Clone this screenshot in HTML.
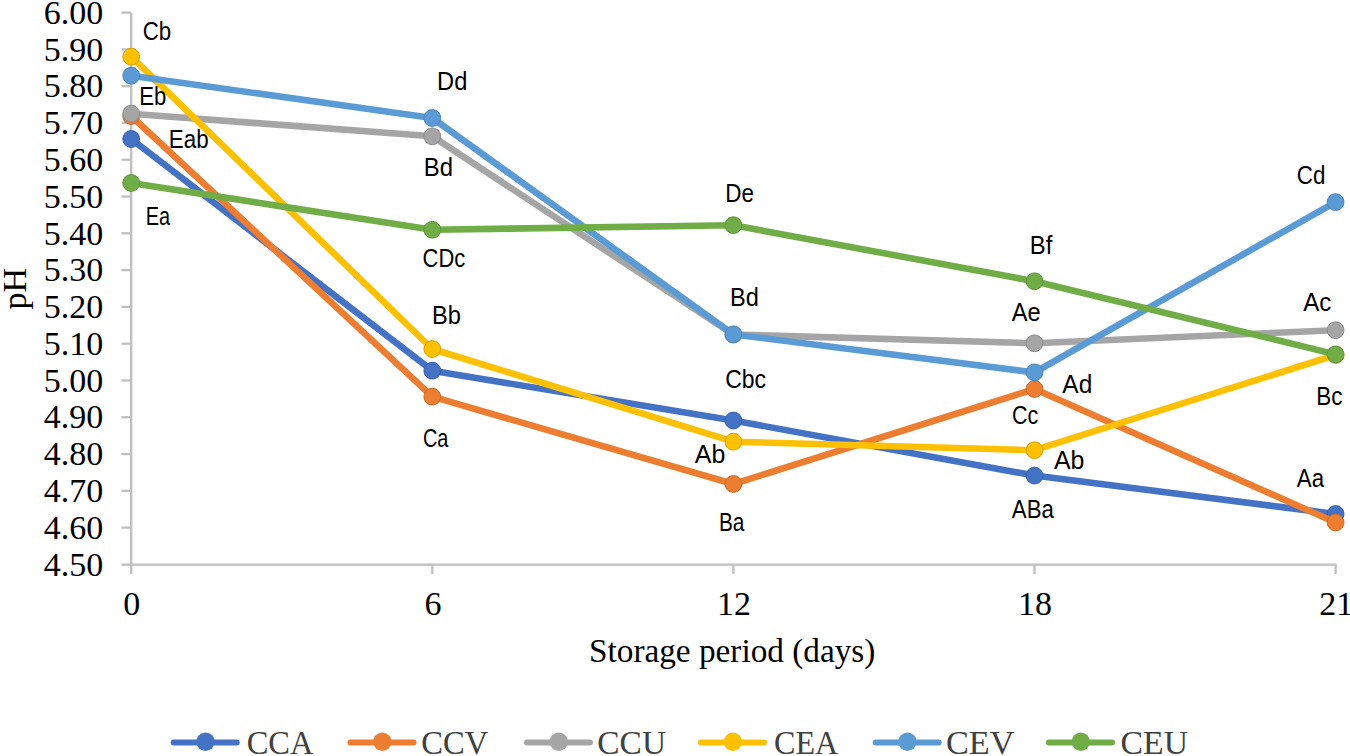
<!DOCTYPE html><html><head><meta charset="utf-8"><style>html,body{margin:0;padding:0;background:#fff;overflow:hidden}svg{display:block}.se{font-family:"Liberation Serif",serif}.sa{font-family:"Liberation Sans",sans-serif}</style></head><body>
<svg width="1350" height="756" viewBox="0 0 1350 756">
<rect width="1350" height="756" fill="#fff"/>
<g stroke="#BFBFBF" stroke-width="2.3" fill="none" shape-rendering="auto">
<line x1="131.2" y1="12.6" x2="131.2" y2="573.9"/>
<line x1="121.5" y1="564.7" x2="1336.7" y2="564.7"/>
<line x1="121.5" y1="12.60" x2="131.2" y2="12.60"/>
<line x1="121.5" y1="49.39" x2="131.2" y2="49.39"/>
<line x1="121.5" y1="86.17" x2="131.2" y2="86.17"/>
<line x1="121.5" y1="122.96" x2="131.2" y2="122.96"/>
<line x1="121.5" y1="159.75" x2="131.2" y2="159.75"/>
<line x1="121.5" y1="196.53" x2="131.2" y2="196.53"/>
<line x1="121.5" y1="233.32" x2="131.2" y2="233.32"/>
<line x1="121.5" y1="270.11" x2="131.2" y2="270.11"/>
<line x1="121.5" y1="306.89" x2="131.2" y2="306.89"/>
<line x1="121.5" y1="343.68" x2="131.2" y2="343.68"/>
<line x1="121.5" y1="380.47" x2="131.2" y2="380.47"/>
<line x1="121.5" y1="417.25" x2="131.2" y2="417.25"/>
<line x1="121.5" y1="454.04" x2="131.2" y2="454.04"/>
<line x1="121.5" y1="490.83" x2="131.2" y2="490.83"/>
<line x1="121.5" y1="527.61" x2="131.2" y2="527.61"/>
<line x1="432.3" y1="564.7" x2="432.3" y2="573.9"/>
<line x1="733.4" y1="564.7" x2="733.4" y2="573.9"/>
<line x1="1034.5" y1="564.7" x2="1034.5" y2="573.9"/>
<line x1="1335.6" y1="564.7" x2="1335.6" y2="573.9"/>
</g>
<g class="se" font-size="34" fill="#000" text-anchor="end">
<text x="103.3" y="23.80">6.00</text>
<text x="103.3" y="60.59">5.90</text>
<text x="103.3" y="97.37">5.80</text>
<text x="103.3" y="134.16">5.70</text>
<text x="103.3" y="170.95">5.60</text>
<text x="103.3" y="207.73">5.50</text>
<text x="103.3" y="244.52">5.40</text>
<text x="103.3" y="281.31">5.30</text>
<text x="103.3" y="318.09">5.20</text>
<text x="103.3" y="354.88">5.10</text>
<text x="103.3" y="391.67">5.00</text>
<text x="103.3" y="428.45">4.90</text>
<text x="103.3" y="465.24">4.80</text>
<text x="103.3" y="502.03">4.70</text>
<text x="103.3" y="538.81">4.60</text>
<text x="103.3" y="575.60">4.50</text>
</g>
<g class="se" font-size="34" fill="#000" text-anchor="middle">
<text x="131.8" y="615.1">0</text>
<text x="432.9" y="615.1">6</text>
<text x="734" y="615.1">12</text>
<text x="1035.1" y="615.1">18</text>
<text x="1336.2" y="615.1">21</text>
</g>
<text x="732.2" y="661.9" class="se" font-size="34" text-anchor="middle" textLength="286.4" lengthAdjust="spacingAndGlyphs">Storage period (days)</text>
<text transform="translate(26,288.6) rotate(-90)" class="se" font-size="34" text-anchor="middle">pH</text>
<polyline points="131.2,139 432.3,370.7 733.4,420.5 1034.5,475.6 1335.6,514" fill="none" stroke="#4472C4" stroke-width="6.6" stroke-linejoin="round" stroke-linecap="round"/>
<circle cx="131.2" cy="139" r="8.4" fill="#4472C4" stroke="#3960a6" stroke-width="1"/>
<circle cx="432.3" cy="370.7" r="8.4" fill="#4472C4" stroke="#3960a6" stroke-width="1"/>
<circle cx="733.4" cy="420.5" r="8.4" fill="#4472C4" stroke="#3960a6" stroke-width="1"/>
<circle cx="1034.5" cy="475.6" r="8.4" fill="#4472C4" stroke="#3960a6" stroke-width="1"/>
<circle cx="1335.6" cy="514" r="8.4" fill="#4472C4" stroke="#3960a6" stroke-width="1"/>
<polyline points="131.2,116 432.3,396.7 733.4,484 1034.5,389.0 1335.6,522.5" fill="none" stroke="#ED7D31" stroke-width="6.6" stroke-linejoin="round" stroke-linecap="round"/>
<circle cx="131.2" cy="116" r="8.4" fill="#ED7D31" stroke="#c96a29" stroke-width="1"/>
<circle cx="432.3" cy="396.7" r="8.4" fill="#ED7D31" stroke="#c96a29" stroke-width="1"/>
<circle cx="733.4" cy="484" r="8.4" fill="#ED7D31" stroke="#c96a29" stroke-width="1"/>
<circle cx="1034.5" cy="389.0" r="8.4" fill="#ED7D31" stroke="#c96a29" stroke-width="1"/>
<circle cx="1335.6" cy="522.5" r="8.4" fill="#ED7D31" stroke="#c96a29" stroke-width="1"/>
<polyline points="131.2,113.7 432.3,136.3 733.4,334.5 1034.5,343.3 1335.6,330.2" fill="none" stroke="#A5A5A5" stroke-width="6.6" stroke-linejoin="round" stroke-linecap="round"/>
<circle cx="131.2" cy="113.7" r="8.4" fill="#A5A5A5" stroke="#8c8c8c" stroke-width="1"/>
<circle cx="432.3" cy="136.3" r="8.4" fill="#A5A5A5" stroke="#8c8c8c" stroke-width="1"/>
<circle cx="733.4" cy="334.5" r="8.4" fill="#A5A5A5" stroke="#8c8c8c" stroke-width="1"/>
<circle cx="1034.5" cy="343.3" r="8.4" fill="#A5A5A5" stroke="#8c8c8c" stroke-width="1"/>
<circle cx="1335.6" cy="330.2" r="8.4" fill="#A5A5A5" stroke="#8c8c8c" stroke-width="1"/>
<polyline points="131.2,56.7 432.3,349 733.4,441.7 1034.5,450.2 1335.6,355" fill="none" stroke="#FFC000" stroke-width="6.6" stroke-linejoin="round" stroke-linecap="round"/>
<circle cx="131.2" cy="56.7" r="8.4" fill="#FFC000" stroke="#d8a300" stroke-width="1"/>
<circle cx="432.3" cy="349" r="8.4" fill="#FFC000" stroke="#d8a300" stroke-width="1"/>
<circle cx="733.4" cy="441.7" r="8.4" fill="#FFC000" stroke="#d8a300" stroke-width="1"/>
<circle cx="1034.5" cy="450.2" r="8.4" fill="#FFC000" stroke="#d8a300" stroke-width="1"/>
<circle cx="1335.6" cy="355" r="8.4" fill="#FFC000" stroke="#d8a300" stroke-width="1"/>
<polyline points="131.2,75.7 432.3,118 733.4,334.4 1034.5,372.4 1335.6,202.1" fill="none" stroke="#5B9BD5" stroke-width="6.6" stroke-linejoin="round" stroke-linecap="round"/>
<circle cx="131.2" cy="75.7" r="8.4" fill="#5B9BD5" stroke="#4d83b5" stroke-width="1"/>
<circle cx="432.3" cy="118" r="8.4" fill="#5B9BD5" stroke="#4d83b5" stroke-width="1"/>
<circle cx="733.4" cy="334.4" r="8.4" fill="#5B9BD5" stroke="#4d83b5" stroke-width="1"/>
<circle cx="1034.5" cy="372.4" r="8.4" fill="#5B9BD5" stroke="#4d83b5" stroke-width="1"/>
<circle cx="1335.6" cy="202.1" r="8.4" fill="#5B9BD5" stroke="#4d83b5" stroke-width="1"/>
<polyline points="131.2,183 432.3,229.8 733.4,225.2 1034.5,281.3 1335.6,354.4" fill="none" stroke="#70AD47" stroke-width="6.6" stroke-linejoin="round" stroke-linecap="round"/>
<circle cx="131.2" cy="183" r="8.4" fill="#70AD47" stroke="#5f933c" stroke-width="1"/>
<circle cx="432.3" cy="229.8" r="8.4" fill="#70AD47" stroke="#5f933c" stroke-width="1"/>
<circle cx="733.4" cy="225.2" r="8.4" fill="#70AD47" stroke="#5f933c" stroke-width="1"/>
<circle cx="1034.5" cy="281.3" r="8.4" fill="#70AD47" stroke="#5f933c" stroke-width="1"/>
<circle cx="1335.6" cy="354.4" r="8.4" fill="#70AD47" stroke="#5f933c" stroke-width="1"/>
<g class="sa" font-size="25.5" fill="#000">
<text x="142.66" y="39.90" textLength="28.48" lengthAdjust="spacingAndGlyphs">Cb</text>
<text x="139.29" y="105.00" textLength="27.05" lengthAdjust="spacingAndGlyphs">Eb</text>
<text x="168.87" y="148.40" textLength="39.78" lengthAdjust="spacingAndGlyphs">Eab</text>
<text x="145.76" y="225.00" textLength="24.44" lengthAdjust="spacingAndGlyphs">Ea</text>
<text x="437.06" y="90.30" textLength="30.26" lengthAdjust="spacingAndGlyphs">Dd</text>
<text x="423.84" y="176.10" textLength="29.19" lengthAdjust="spacingAndGlyphs">Bd</text>
<text x="422.58" y="267.10" textLength="42.70" lengthAdjust="spacingAndGlyphs">CDc</text>
<text x="432.06" y="323.70" textLength="28.94" lengthAdjust="spacingAndGlyphs">Bb</text>
<text x="422.99" y="446.60" textLength="25.42" lengthAdjust="spacingAndGlyphs">Ca</text>
<text x="725.36" y="202.30" textLength="28.74" lengthAdjust="spacingAndGlyphs">De</text>
<text x="729.97" y="305.80" textLength="28.85" lengthAdjust="spacingAndGlyphs">Bd</text>
<text x="725.23" y="388.40" textLength="40.88" lengthAdjust="spacingAndGlyphs">Cbc</text>
<text x="694.75" y="462.60" textLength="30.50" lengthAdjust="spacingAndGlyphs">Ab</text>
<text x="718.89" y="530.50" textLength="25.51" lengthAdjust="spacingAndGlyphs">Ba</text>
<text x="1029.74" y="253.90" textLength="22.53" lengthAdjust="spacingAndGlyphs">Bf</text>
<text x="1011.85" y="320.50" textLength="28.89" lengthAdjust="spacingAndGlyphs">Ae</text>
<text x="1062.35" y="392.60" textLength="29.92" lengthAdjust="spacingAndGlyphs">Ad</text>
<text x="1011.90" y="423.90" textLength="26.26" lengthAdjust="spacingAndGlyphs">Cc</text>
<text x="1053.95" y="469.20" textLength="30.50" lengthAdjust="spacingAndGlyphs">Ab</text>
<text x="1011.86" y="517.60" textLength="42.05" lengthAdjust="spacingAndGlyphs">ABa</text>
<text x="1296.76" y="184.20" textLength="28.58" lengthAdjust="spacingAndGlyphs">Cd</text>
<text x="1303.15" y="310.80" textLength="28.18" lengthAdjust="spacingAndGlyphs">Ac</text>
<text x="1316.16" y="404.50" textLength="26.23" lengthAdjust="spacingAndGlyphs">Bc</text>
<text x="1296.86" y="486.80" textLength="27.25" lengthAdjust="spacingAndGlyphs">Aa</text>
</g>
<g class="se" font-size="34" fill="#404040">
<line x1="173.7" y1="742.5" x2="236.7" y2="742.5" stroke="#4472C4" stroke-width="6" stroke-linecap="round"/>
<circle cx="205.5" cy="741.8" r="9.2" fill="#4472C4"/>
<text x="246.67" y="753.7" textLength="66.87" lengthAdjust="spacingAndGlyphs">CCA</text>
<line x1="350.5" y1="742.5" x2="413.5" y2="742.5" stroke="#ED7D31" stroke-width="6" stroke-linecap="round"/>
<circle cx="382.3" cy="741.8" r="9.2" fill="#ED7D31"/>
<text x="421.36" y="753.7" textLength="67.00" lengthAdjust="spacingAndGlyphs">CCV</text>
<line x1="527" y1="742.5" x2="590" y2="742.5" stroke="#A5A5A5" stroke-width="6" stroke-linecap="round"/>
<circle cx="558.8" cy="741.8" r="9.2" fill="#A5A5A5"/>
<text x="597.33" y="753.7" textLength="68.68" lengthAdjust="spacingAndGlyphs">CCU</text>
<line x1="701" y1="742.5" x2="764" y2="742.5" stroke="#FFC000" stroke-width="6" stroke-linecap="round"/>
<circle cx="732.8" cy="741.8" r="9.2" fill="#FFC000"/>
<text x="773.98" y="753.7" textLength="64.24" lengthAdjust="spacingAndGlyphs">CEA</text>
<line x1="875.7" y1="742.5" x2="938.7" y2="742.5" stroke="#5B9BD5" stroke-width="6" stroke-linecap="round"/>
<circle cx="907.5" cy="741.8" r="9.2" fill="#5B9BD5"/>
<text x="945.90" y="753.7" textLength="68.48" lengthAdjust="spacingAndGlyphs">CEV</text>
<line x1="1049" y1="742.5" x2="1112" y2="742.5" stroke="#70AD47" stroke-width="6" stroke-linecap="round"/>
<circle cx="1080.8" cy="741.8" r="9.2" fill="#70AD47"/>
<text x="1120.62" y="753.7" textLength="67.39" lengthAdjust="spacingAndGlyphs">CEU</text>
</g>
</svg></body></html>
